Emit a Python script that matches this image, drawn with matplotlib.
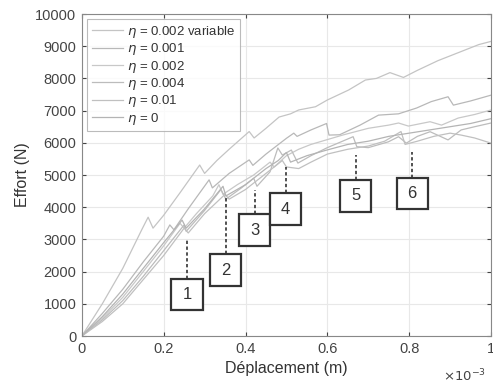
import numpy as np
import matplotlib.pyplot as plt
from matplotlib.patches import Rectangle

plt.rcParams['font.family'] = ['Liberation Sans', 'DejaVu Sans']

# deplacement in units of 1e-3 m, effort in N
labels = [r'$\eta$ = 0.002 variable', r'$\eta$ = 0.001', r'$\eta$ = 0.002',
          r'$\eta$ = 0.004', r'$\eta$ = 0.01', r'$\eta$ = 0']

x1 = [0, 0.05, 0.1, 0.146, 0.162, 0.174, 0.2, 0.24, 0.288, 0.3, 0.33, 0.36, 0.409, 0.421,
      0.45, 0.482, 0.51, 0.53, 0.571, 0.6, 0.652, 0.693, 0.72, 0.753, 0.786, 0.82, 0.87,
      0.93, 0.97, 1.0]
y1 = [0, 1000, 2100, 3290, 3690, 3350, 3750, 4450, 5310, 5050, 5450, 5800, 6350, 6150,
      6450, 6800, 6900, 7020, 7120, 7330, 7640, 7950, 8000, 8180, 8030, 8250, 8550,
      8850, 9050, 9150]

x2 = [0, 0.05, 0.1, 0.15, 0.2, 0.215, 0.225, 0.26, 0.311, 0.319, 0.36, 0.409, 0.418,
      0.45, 0.5, 0.518, 0.526, 0.56, 0.598, 0.604, 0.63, 0.68, 0.725, 0.774, 0.818,
      0.854, 0.895, 0.908, 0.95, 1.0]
y2 = [0, 700, 1450, 2300, 3100, 3450, 3300, 3950, 4850, 4600, 5050, 5470, 5300,
      5650, 6140, 6300, 6200, 6400, 6600, 6240, 6250, 6550, 6860, 6900, 7080,
      7280, 7430, 7170, 7300, 7480]

x3 = [0, 0.05, 0.1, 0.15, 0.2, 0.24, 0.25, 0.28, 0.32, 0.335, 0.345, 0.38, 0.42, 0.46,
      0.47, 0.5, 0.53, 0.56, 0.6, 0.64, 0.7, 0.75, 0.774, 0.798, 0.851, 0.879, 0.92,
      0.96, 1.0]
y3 = [0, 550, 1200, 2000, 2800, 3500, 3350, 3800, 4350, 4700, 4400, 4700, 5000, 5400,
      5250, 5600, 5800, 5950, 6100, 6250, 6450, 6550, 6615, 6520, 6655, 6550, 6770,
      6880, 7020]

x4 = [0, 0.05, 0.1, 0.15, 0.2, 0.25, 0.255, 0.3, 0.34, 0.352, 0.39, 0.42, 0.428, 0.46,
      0.479, 0.49, 0.512, 0.528, 0.56, 0.6, 0.663, 0.672, 0.7, 0.749, 0.774, 0.793,
      0.82, 0.851, 0.895, 0.927, 0.96, 1.0]
y4 = [0, 500, 1100, 1850, 2650, 3450, 3250, 3900, 4550, 4250, 4600, 4900, 4650, 5100,
      5840, 5620, 5776, 5370, 5600, 5850, 6190, 5880, 5850, 6030, 6190, 5990,
      6200, 6345, 6090, 6400, 6500, 6615]

x5 = [0, 0.05, 0.1, 0.15, 0.2, 0.25, 0.26, 0.3, 0.35, 0.36, 0.4, 0.45, 0.49, 0.5, 0.53,
      0.56, 0.6, 0.65, 0.7, 0.74, 0.78, 0.79, 0.82, 0.86, 0.9, 0.927, 0.96, 1.0]
y5 = [0, 450, 1000, 1750, 2500, 3350, 3200, 3800, 4400, 4250, 4550, 5050, 5450, 5250,
      5200, 5400, 5650, 5800, 5900, 6050, 6350, 5950, 6050, 6200, 6300, 6240, 6150, 5990]

x6 = [0, 0.05, 0.1, 0.15, 0.2, 0.245, 0.255, 0.3, 0.345, 0.352, 0.4, 0.42, 0.45, 0.48,
      0.5, 0.51, 0.55, 0.6, 0.65, 0.7, 0.75, 0.8, 0.85, 0.9, 0.95, 1.0]
y6 = [0, 600, 1300, 2100, 2900, 3600, 3350, 3950, 4650, 4350, 4700, 4900, 5200, 5450,
      5700, 5400, 5600, 5780, 5950, 6050, 6200, 6300, 6400, 6500, 6600, 6750]

xs = [x1, x2, x3, x4, x5, x6]
ys = [y1, y2, y3, y4, y5, y6]
colors = ['#c4c4c4', '#b8b8b8', '#c8c8c8', '#bcbcbc', '#c0c0c0', '#b4b4b4']

# numbered markers: x position, top of dashed line, box centre
mark_x = [0.257, 0.352, 0.422, 0.498, 0.669, 0.807]
mark_top = [2980, 4330, 4520, 5260, 5620, 5720]
box_y = [1290, 2050, 3290, 3940, 4350, 4425]

fig = plt.figure(figsize=(4.93, 3.86), dpi=100)
ax = fig.add_axes([0.166, 0.1295, 0.83, 0.8342])

for x, y, c, lab in zip(xs, ys, colors, labels):
    ax.plot(x, y, color=c, lw=0.9, label=lab)

bw, bh = 0.076, 980
for i, (mx, mt, by) in enumerate(zip(mark_x, mark_top, box_y)):
    ax.plot([mx, mx], [by + bh / 2, mt], color='#333333', lw=1.2, ls=(0, (2, 1.5)))
    ax.add_patch(Rectangle((mx - bw / 2, by - bh / 2), bw, bh, facecolor='white',
                           edgecolor='#333333', lw=1.6, zorder=5))
    ax.text(mx, by, str(i + 1), ha='center', va='center', fontsize=12,
            color='#333333', zorder=6)

ax.set_xlim(0, 1)
ax.set_ylim(0, 10000)
ax.set_xticks([0, 0.2, 0.4, 0.6, 0.8, 1])
ax.set_xticklabels(['0', '0.2', '0.4', '0.6', '0.8', '1'])
ax.set_yticks(np.arange(0, 10001, 1000))
ax.grid(True, color='#e8e8e8', lw=0.8)
ax.tick_params(direction='in', top=True, right=True, labelsize=10.5,
               colors='#444444', length=3, pad=4)
for s in ax.spines.values():
    s.set_color('#888888')
ax.set_xlabel('Déplacement (m)', fontsize=11.5, color='#333333', labelpad=4)
ax.set_ylabel('Effort (N)', fontsize=11.5, color='#333333', labelpad=4)
fig.text(0.985, 0.004, r'$\times10^{-3}$', fontsize=9.5, color='#444444',
         ha='right', va='bottom')

leg = ax.legend(loc='upper left', fontsize=9.5, frameon=True, fancybox=False,
                edgecolor='#aaaaaa', handlelength=2.4, labelspacing=0.1,
                borderaxespad=0.4, handletextpad=0.3, borderpad=0.35)
leg.get_frame().set_linewidth(0.8)
for t in leg.get_texts():
    t.set_color('#333333')

fig.savefig('out.png', dpi=100)
